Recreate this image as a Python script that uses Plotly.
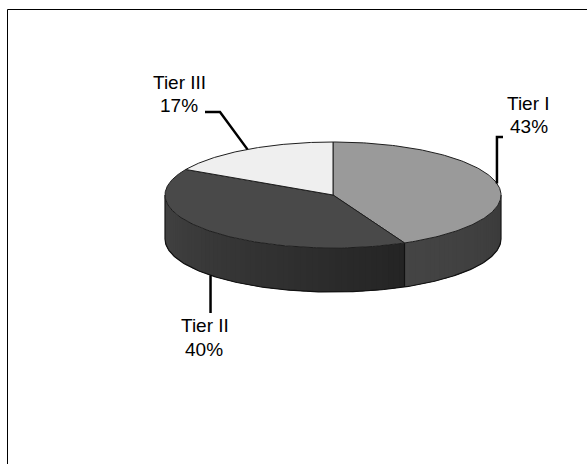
import numpy as np
import plotly.graph_objects as go

# Data
tiers = ["Tier I", "Tier II", "Tier III"]
shares = [43, 40, 17]

# Style
top_colors = ["#9a9a9a", "#494949", "#efefef"]
# side shading (colour at start angle, colour at end angle of visible wall)
side_shades = [((0x3a, 0x3a, 0x3a), (0x45, 0x45, 0x45)),
               ((0x24, 0x24, 0x24), (0x44, 0x44, 0x44)),
               ((0x30, 0x30, 0x30), (0x30, 0x30, 0x30))]
# label layout: name / percent positions and leader bend points
label_pos = {
    "Tier I": dict(name=(528, 103), pct=(529, 126), bend=[(None, 137), (503, 137)], base="top"),
    "Tier II": dict(name=(205, 325), pct=(204, 349), bend=[(None, 313)], base="bottom"),
    "Tier III": dict(name=(179, 82), pct=(179, 105), bend=[(220, 112), (205, 112)], base="top"),
}

W, H = 587, 464
cx, cy, rx, ry, depth = 333, 195, 168, 53, 44


def rim(t_deg, dz=0.0):
    t = np.radians(t_deg)
    return cx + rx * np.sin(t), cy - ry * np.cos(t) + dz


fig = go.Figure()

total = float(sum(shares))
angles = np.concatenate([[0.0], np.cumsum(shares) / total * 360.0])

# side walls (only the front half, 90..270 deg clockwise from top, is visible)
for i, name in enumerate(tiers):
    a, b = angles[i], angles[i + 1]
    lo, hi = max(a, 90.0), min(b, 270.0)
    if hi <= lo:
        continue
    n = max(4, int((hi - lo) / 2))
    ts = np.linspace(lo, hi, n + 1)
    step = ts[1] - ts[0]
    c0, c1 = side_shades[i]
    for k in range(n):
        f = (k + 0.5) / n
        col = "rgb({},{},{})".format(*[int(round(c0[j] + (c1[j] - c0[j]) * f)) for j in range(3)])
        # each strip overlaps the next one so no seams show
        seg = np.linspace(ts[k], min(ts[k + 1] + step, hi), 5)
        xs_top, ys_top = rim(seg)
        xs_bot, ys_bot = rim(seg[::-1], depth)
        fig.add_trace(go.Scatter(
            x=np.concatenate([xs_top, xs_bot]), y=np.concatenate([ys_top, ys_bot]),
            fill="toself", fillcolor=col, mode="none",
            hoverinfo="skip", showlegend=False))

# outline of the wall: bottom edge, silhouette edges and slice seams
tb = np.linspace(90, 270, 200)
bx, by = rim(tb, depth)
fig.add_trace(go.Scatter(x=bx, y=by, mode="lines", line=dict(color="#111", width=1.2),
                         hoverinfo="skip", showlegend=False))
for t in [90.0, 270.0] + [x for x in angles[1:-1] if 90 < x < 270]:
    x0, y0 = rim(t)
    x1, y1 = rim(t, depth)
    fig.add_trace(go.Scatter(x=[x0, x1], y=[y0, y1], mode="lines",
                             line=dict(color="#111", width=1.2),
                             hoverinfo="skip", showlegend=False))

# top faces
for i, name in enumerate(tiers):
    a, b = angles[i], angles[i + 1]
    ts = np.linspace(a, b, 150)
    xs, ys = rim(ts)
    fig.add_trace(go.Scatter(
        x=np.concatenate([[cx], xs, [cx]]), y=np.concatenate([[cy], ys, [cy]]),
        fill="toself", fillcolor=top_colors[i], mode="lines",
        line=dict(color="#1e1e1e", width=1), hoverinfo="skip", showlegend=False))

# labels with leader lines
annotations = []
for i, name in enumerate(tiers):
    mid = (angles[i] + angles[i + 1]) / 2
    lp = label_pos[name]
    ax, ay = rim(mid, depth if lp["base"] == "bottom" else 0.0)
    px, py = [ax], [ay]
    for bx_, by_ in lp["bend"]:
        px.append(ax if bx_ is None else bx_)
        py.append(by_)
    fig.add_trace(go.Scatter(x=px, y=py, mode="lines", line=dict(color="#000", width=2.5),
                             hoverinfo="skip", showlegend=False))
    for txt, (tx, ty) in [(name, lp["name"]), (f"{shares[i]}%", lp["pct"])]:
        annotations.append(dict(x=tx, y=ty, xref="x", yref="y", text=txt, showarrow=False,
                                xanchor="center", yanchor="middle",
                                font=dict(family="Liberation Sans, Arial, sans-serif",
                                          size=19, color="#000")))

fig.update_layout(
    width=W, height=H,
    margin=dict(l=0, r=0, t=0, b=0),
    paper_bgcolor="white", plot_bgcolor="white",
    xaxis=dict(range=[0, W], visible=False, fixedrange=True),
    yaxis=dict(range=[H, 0], visible=False, fixedrange=True),
    annotations=annotations,
    shapes=[dict(type="rect", xref="x", yref="y", x0=7.5, y0=9.5, x1=W + 20, y1=H + 20,
                 line=dict(color="#000", width=1), fillcolor="rgba(0,0,0,0)", layer="below")],
)

fig.write_html("out.html")
